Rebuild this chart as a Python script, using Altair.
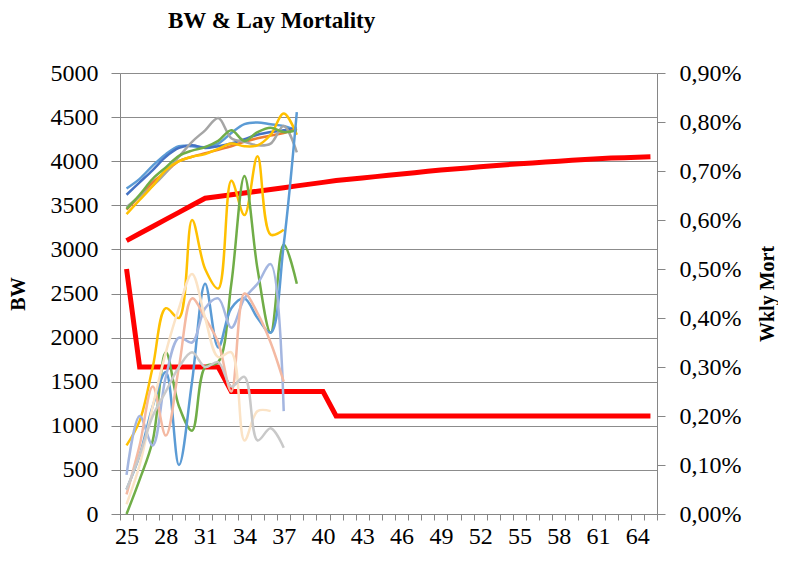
import altair as alt
import pandas as pd

# ---------------- data ----------------
weeks_std = list(range(25, 66))
bw_standard = [3100, 3180, 3260, 3340, 3420, 3500, 3580, 3600, 3620, 3640,
               3660, 3680, 3700, 3720, 3740, 3760, 3780, 3795, 3810, 3825,
               3840, 3855, 3870, 3885, 3900, 3912, 3924, 3936, 3948, 3960,
               3970, 3980, 3990, 4000, 4010, 4020, 4028, 4035, 4040, 4045, 4050]
mort_standard = [0.50, 0.30, 0.30, 0.30, 0.30, 0.30, 0.30, 0.30, 0.25, 0.25,
                 0.25, 0.25, 0.25, 0.25, 0.25, 0.25, 0.20, 0.20, 0.20, 0.20,
                 0.20, 0.20, 0.20, 0.20, 0.20, 0.20, 0.20, 0.20, 0.20, 0.20,
                 0.20, 0.20, 0.20, 0.20, 0.20, 0.20, 0.20, 0.20, 0.20, 0.20, 0.20]

weeks_flock = list(range(25, 39))
bw_blue = [3690, 3800, 3950, 4080, 4170, 4170, 4160, 4200, 4320, 4420, 4440, 4420, 4400, 4350]
bw_darkblue = [3620, 3760, 3900, 4050, 4150, 4180, 4150, 4170, 4200, 4250, 4300, 4330, 4350, 4380]
bw_orange = [3450, 3600, 3760, 3880, 4000, 4050, 4090, 4130, 4170, 4220, 4260, 4290, 4320, 4370]
bw_gray = [3480, 3600, 3720, 3870, 4050, 4220, 4350, 4490, 4260, 4220, 4180, 4200, 4400, 4100]
bw_gold = [3400, 3560, 3720, 3900, 4000, 4050, 4080, 4140, 4200, 4170, 4180, 4300, 4540, 4300]
bw_green = [3460, 3620, 3800, 3930, 4060, 4120, 4160, 4230, 4350, 4230, 4330, 4380, 4330, 4350]

# weekly mortality, in percent
mort_gold = [0.14, 0.19, 0.30, 0.42, 0.40, 0.60, 0.50, 0.46, 0.68, 0.61, 0.73, 0.57, 0.58]
mort_green = [0.00, 0.07, 0.15, 0.33, 0.22, 0.17, 0.30, 0.31, 0.47, 0.69, 0.50, 0.37, 0.55, 0.47]
mort_blue = [0.05, 0.12, 0.22, 0.29, 0.10, 0.27, 0.47, 0.34, 0.42, 0.44, 0.40, 0.37, 0.55, 0.82]
mort_lavender = [0.08, 0.20, 0.14, 0.28, 0.36, 0.35, 0.42, 0.44, 0.38, 0.44, 0.47, 0.51, 0.21]
mort_salmon = [0.04, 0.14, 0.26, 0.16, 0.30, 0.44, 0.40, 0.35, 0.25, 0.45, 0.41, 0.35, 0.27]
mort_pale = [0.02, 0.10, 0.22, 0.33, 0.42, 0.49, 0.40, 0.32, 0.33, 0.15, 0.21, 0.21]
mort_lightgray = [0.05, 0.12, 0.20, 0.25, 0.30, 0.33, 0.30, 0.31, 0.26, 0.28, 0.15, 0.175, 0.135]

bw_series = {
    "BW 1": (bw_blue, "#5B9BD5"),
    "BW 2": (bw_darkblue, "#4472C4"),
    "BW 3": (bw_orange, "#ED7D31"),
    "BW 4": (bw_gray, "#A5A5A5"),
    "BW 5": (bw_gold, "#FFC000"),
    "BW 6": (bw_green, "#70AD47"),
}
mort_series = {
    "Mort 1": (mort_gold, "#FFC000"),
    "Mort 2": (mort_green, "#70AD47"),
    "Mort 3": (mort_blue, "#5B9BD5"),
    "Mort 4": (mort_lavender, "#A4B6E0"),
    "Mort 5": (mort_salmon, "#F4B9A2"),
    "Mort 6": (mort_pale, "#FBE3C6"),
    "Mort 7": (mort_lightgray, "#C9C9C9"),
}

# ---------------- tables ----------------
rows = []
for name, (vals, _) in bw_series.items():
    for w, v in zip(weeks_flock, vals):
        rows.append({"week": w, "value": v, "series": name})
bw_df = pd.DataFrame(rows)

rows = []
for name, (vals, _) in mort_series.items():
    for w, v in zip(weeks_flock, vals):
        rows.append({"week": w, "value": v / 100.0, "series": name})
mort_df = pd.DataFrame(rows)

std_bw_df = pd.DataFrame({"week": weeks_std, "value": bw_standard})
std_mort_df = pd.DataFrame({"week": weeks_std, "value": [v / 100.0 for v in mort_standard]})

names = list(bw_series) + list(mort_series)
colors = [c for _, c in bw_series.values()] + [c for _, c in mort_series.values()]
color_scale = alt.Scale(domain=names, range=colors)

FONT = "Liberation Serif"
AXIS_GRAY = "#868686"

boundaries = [w - 0.5 for w in weeks_std] + [weeks_std[-1] + 0.5]
x_scale = alt.Scale(domain=[boundaries[0], boundaries[-1]], nice=False, zero=False)
x_axis = alt.Axis(
    values=boundaries,
    labelExpr="(datum.value - 24.5) % 3 == 0 && datum.value < 65 ? format(datum.value + 0.5, 'd') : ''",
    labelOffset=6.55, labelOverlap=False, labelFlush=False, labelPadding=4,
    tickSize=6, grid=False, title=None,
)
x_enc = alt.X("week:Q", scale=x_scale, axis=x_axis)

bw_ticks = [0, 500, 1000, 1500, 2000, 2500, 3000, 3500, 4000, 4500, 5000]
mort_ticks = [0, 0.001, 0.002, 0.003, 0.004, 0.005, 0.006, 0.007, 0.008, 0.009]

y_left = alt.Y("value:Q", scale=alt.Scale(domain=[0, 5000], nice=False),
               axis=alt.Axis(values=bw_ticks, format="d", title="BW", grid=True, tickSize=9,
                             labelPadding=13, titlePadding=22, titleAngle=270))
y_right = alt.Y("value:Q", scale=alt.Scale(domain=[0, 0.009], nice=False),
                axis=alt.Axis(values=mort_ticks, orient="right", title="Wkly Mort", grid=False,
                              tickSize=8, labelPadding=14, titlePadding=37, titleAngle=270,
                              labelExpr="replace(format(datum.value, '.2%'), '.', ',')"))

std_bw = alt.Chart(std_bw_df).mark_line(color="#FF0000", strokeWidth=5).encode(x=x_enc, y=y_left)
flock_bw = alt.Chart(bw_df).mark_line(strokeWidth=2.5, interpolate="catmull-rom").encode(
    x=x_enc, y=y_left,
    color=alt.Color("series:N", scale=color_scale, legend=None),
    detail="series:N",
)
left = alt.layer(std_bw, flock_bw)

std_mort = alt.Chart(std_mort_df).mark_line(color="#FF0000", strokeWidth=5).encode(x=x_enc, y=y_right)
flock_mort = alt.Chart(mort_df).mark_line(strokeWidth=2.5, interpolate="catmull-rom").encode(
    x=x_enc, y=y_right,
    color=alt.Color("series:N", scale=color_scale, legend=None),
    detail="series:N",
)
right = alt.layer(std_mort, flock_mort)

chart = alt.layer(left, right).resolve_scale(y="independent").properties(
    width=537, height=441,
    padding={"left": 0, "top": 2, "right": 0, "bottom": 0},
    title=alt.TitleParams("BW & Lay Mortality", font=FONT, fontSize=23, fontWeight="bold",
                          anchor="start", frame="group", dx=48, offset=28, color="black"),
).configure_view(stroke=None).configure_axis(
    labelFont=FONT, labelFontSize=24, labelColor="black",
    titleFont=FONT, titleFontSize=20, titleFontWeight="bold", titleColor="black",
    domainColor=AXIS_GRAY, tickColor=AXIS_GRAY, gridColor="#8C8C8C",
    domainWidth=1, tickWidth=1, gridWidth=1,
)

chart.save("out.html", embed_options={"renderer": "svg", "actions": False})
